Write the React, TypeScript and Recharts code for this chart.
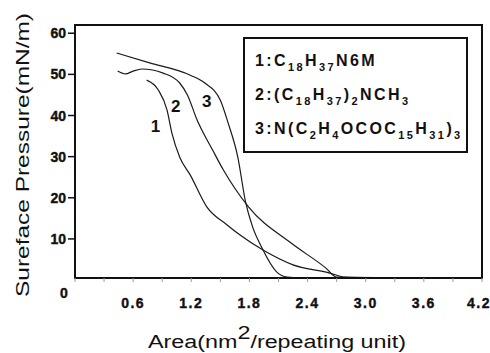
import { LineChart, Line, XAxis, YAxis, Legend, ReferenceArea, ReferenceDot, Label } from 'recharts';

// pi-A isotherms
const curve1 = [
  { x: 0.74, y: 48.6 }, { x: 0.86, y: 46.2 }, { x: 0.95, y: 41.3 }, { x: 1.0, y: 35.7 },
  { x: 1.08, y: 29.9 }, { x: 1.19, y: 25.5 }, { x: 1.36, y: 17.8 }, { x: 1.57, y: 13.4 },
  { x: 1.7, y: 11.0 }, { x: 1.94, y: 7.3 }, { x: 2.25, y: 3.7 }, { x: 2.63, y: 1.7 },
  { x: 2.79, y: 0.7 }, { x: 3.56, y: 0.5 },
];
const curve2 = [
  { x: 0.44, y: 50.8 }, { x: 0.52, y: 50.1 }, { x: 0.6, y: 50.8 }, { x: 0.69, y: 51.3 },
  { x: 0.91, y: 50.3 }, { x: 1.08, y: 47.9 }, { x: 1.16, y: 45.0 }, { x: 1.26, y: 38.9 },
  { x: 1.42, y: 31.6 }, { x: 1.53, y: 26.8 }, { x: 1.79, y: 17.8 }, { x: 2.23, y: 9.0 },
  { x: 2.59, y: 2.9 }, { x: 2.7, y: 0.7 }, { x: 3.35, y: 0.5 },
];
const curve3 = [
  { x: 0.43, y: 55.2 }, { x: 0.77, y: 52.8 }, { x: 1.19, y: 49.8 }, { x: 1.34, y: 47.9 },
  { x: 1.5, y: 43.7 }, { x: 1.58, y: 38.2 }, { x: 1.68, y: 29.9 }, { x: 1.76, y: 19.0 },
  { x: 1.83, y: 13.1 }, { x: 1.93, y: 7.8 }, { x: 2.08, y: 2.0 }, { x: 2.19, y: 0.7 },
  { x: 2.32, y: 0.5 }, { x: 3.15, y: 0.5 },
];

const xTicks = [0, 0.3, 0.6, 0.9, 1.2, 1.5, 1.8, 2.1, 2.4, 2.7, 3.0, 3.3, 3.6, 3.9, 4.2];
const yTicks = [10, 20, 30, 40, 50, 60];

const curveLabels = [
  { name: '1', x: 0.83, y: 37.5 },
  { name: '2', x: 1.04, y: 42.3 },
  { name: '3', x: 1.36, y: 43.6 },
];

const FONT = '"Liberation Sans", Arial, sans-serif';
const INK = '#111';
const tickStyle = { fontFamily: FONT, fontWeight: 700, fontSize: 14 };

const XTick = (props: any) => {
  const { x, y, index, payload } = props;
  if (index === 0) {
    return (
      <text x={x - 11} y={y + 14} textAnchor="middle" style={tickStyle} fill={INK} stroke={INK} strokeWidth={0.4}>
        0
      </text>
    );
  }
  if (index % 2 === 1) return null;
  const last = index === xTicks.length - 1;
  return (
    <text
      x={last ? x - 3 : x}
      y={y + 24}
      textAnchor="middle"
      style={{ ...tickStyle, letterSpacing: 1.5 }}
      fill={INK}
      stroke={INK}
      strokeWidth={0.4}
    >
      {Number(payload.value).toFixed(1)}
    </text>
  );
};

const YTick = (props: any) => {
  const { x, y, payload } = props;
  return (
    <text x={x} y={y + 5} textAnchor="end" style={tickStyle} fill={INK} stroke={INK} strokeWidth={0.4}>
      {payload.value}
    </text>
  );
};

const Sub = ({ children }: { children: any }) => (
  <span style={{ fontSize: 11, position: 'relative', top: 5 }}>{children}</span>
);

const renderLegend = () => (
  <div
    style={{
      width: 211,
      height: 107,
      border: `2px solid ${INK}`,
      background: '#fff',
      fontFamily: FONT,
      fontWeight: 'bold',
      fontSize: 16,
      letterSpacing: 2.4,
      color: INK,
      paddingLeft: 10,
      paddingTop: 5,
      boxSizing: 'content-box',
      lineHeight: '33px',
      whiteSpace: 'nowrap',
    }}
  >
    <div style={{ height: 34 }}>1:C<Sub>18</Sub>H<Sub>37</Sub>N6M</div>
    <div style={{ height: 34 }}>2:(C<Sub>18</Sub>H<Sub>37</Sub>)<Sub>2</Sub>NCH<Sub>3</Sub></div>
    <div style={{ height: 34 }}>3:N(C<Sub>2</Sub>H<Sub>4</Sub>OCOC<Sub>15</Sub>H<Sub>31</Sub>)<Sub>3</Sub></div>
  </div>
);

export default function App() {
  return (
    <div style={{ position: 'absolute', left: 0, top: 0, background: '#fff' }}>
      <LineChart width={490} height={353} margin={{ top: 25, right: 8, bottom: 0, left: 0 }}>
        <XAxis
          type="number"
          dataKey="x"
          domain={[0, 4.2]}
          ticks={xTicks}
          height={75}
          tick={<XTick />}
          tickSize={4}
          tickMargin={2}
          tickLine={{ stroke: '#999' }}
          axisLine={{ stroke: INK, strokeWidth: 2 }}
          interval={0}
          allowDataOverflow
        >
          <Label
            content={() => (
              <text x={277} y={348} textAnchor="middle" fontFamily={FONT} fontSize={18} fill={INK} textLength={258} lengthAdjust="spacingAndGlyphs">
                Area(nm<tspan dy={-9}>2</tspan><tspan dy={9}>/repeating unit)</tspan>
              </text>
            )}
          />
        </XAxis>
        <YAxis
          type="number"
          domain={[0.5, 62]}
          ticks={yTicks}
          width={75}
          tick={<YTick />}
          tickSize={7}
          tickMargin={2}
          tickLine={{ stroke: INK, strokeWidth: 1.5 }}
          axisLine={{ stroke: INK, strokeWidth: 2 }}
          interval={0}
          allowDataOverflow
        >
          <Label
            content={() => (
              <text
                x={29}
                y={155}
                transform="rotate(-90 29 155)"
                textAnchor="middle"
                fontFamily={FONT}
                fontSize={19}
                fill={INK}
                textLength={284}
                lengthAdjust="spacingAndGlyphs"
              >
                Sureface Pressure(mN/m)
              </text>
            )}
          />
        </YAxis>
        <ReferenceArea x1={0} x2={4.2} y1={0.5} y2={62} fill="none" stroke={INK} strokeWidth={2} />
        <Line data={curve1} dataKey="y" type="monotone" stroke="#1a1a1a" strokeWidth={1.2} dot={false} isAnimationActive={false} />
        <Line data={curve2} dataKey="y" type="monotone" stroke="#1a1a1a" strokeWidth={1.2} dot={false} isAnimationActive={false} />
        <Line data={curve3} dataKey="y" type="monotone" stroke="#1a1a1a" strokeWidth={1.2} dot={false} isAnimationActive={false} />
        {curveLabels.map((c) => (
          <ReferenceDot
            key={c.name}
            x={c.x}
            y={c.y}
            r={0}
            fill="none"
            stroke="none"
            label={{ value: c.name, position: 'center', fontFamily: FONT, fontWeight: 'bold', fontSize: 17, fill: INK }}
          />
        ))}
        <Legend
          content={renderLegend}
          layout="horizontal"
          verticalAlign="middle"
          align="center"
          wrapperStyle={{ left: 243, top: 37, width: 225, height: 111 }}
        />
      </LineChart>
    </div>
  );
}
